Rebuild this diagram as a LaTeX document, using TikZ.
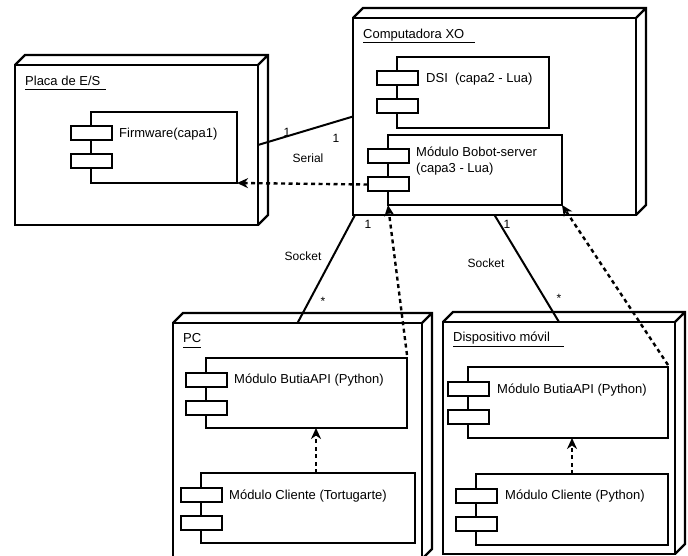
\documentclass[tikz,border=0pt]{standalone}
\usepackage{fontspec}
\setmainfont{Liberation Sans}
\usetikzlibrary{positioning,calc,arrows.meta}

\tikzset{
  nodo/.style={draw, line width=2.2pt, rectangle, anchor=north west, inner sep=0pt, outer sep=0pt},
  componente/.style={draw, line width=2pt, rectangle, anchor=north west, inner sep=0pt, outer sep=0pt, fill=white},
  puerto/.style={draw, line width=2pt, rectangle, fill=white, minimum width=41pt, minimum height=14pt, inner sep=0pt, outer sep=0pt},
  texto/.style={anchor=west, inner sep=0pt, font=\fontsize{13}{16}\selectfont, align=left},
  etiqueta/.style={anchor=south west, inner xsep=0pt, inner ysep=1.5pt, text depth=0.25em, font=\fontsize{13}{15}\selectfont},
  conector/.style={line width=2pt},
  depende/.style={line width=2.4pt, dash pattern=on 4pt off 3.5pt, -{Stealth[length=11pt,width=10pt,inset=3.5pt]}},
  mult/.style={inner sep=0pt, font=\fontsize{12}{14}\selectfont}
}

\begin{document}
\begin{tikzpicture}[x=1pt,y=-1pt]
  \useasboundingbox (0,0) rectangle (688,556);

  % nodos
  \node[nodo, minimum width=243pt, minimum height=160pt] (placa) at (15,65) {};
  \node[nodo, minimum width=283pt, minimum height=197pt] (xo) at (353,18) {};
  \node[nodo, minimum width=249pt, minimum height=236pt] (pc) at (173,323) {};
  \node[nodo, minimum width=232pt, minimum height=232pt] (movil) at (443,322) {};
  \foreach \n in {placa,xo,pc,movil}
    \draw[line width=2.2pt, line join=miter] (\n.north west) -- ++(10,-10) -| ([shift={(10,-10)}]\n.south east) -- (\n.south east)
      (\n.north east) -- ++(10,-10);

  % nombres de los nodos
  \node[etiqueta] (lplaca) at (25,90) {Placa de E/S};
  \draw[line width=1pt] (lplaca.south west) -- ++(81,0);
  \node[etiqueta] (lxo) at (363,43) {Computadora XO};
  \draw[line width=1pt] (lxo.south west) -- ++(112,0);
  \node[etiqueta] (lpc) at (183,347) {PC};
  \draw[line width=1pt] (lpc.south west) -- ++(18,0);
  \node[etiqueta] (lmovil) at (453,346) {Dispositivo móvil};
  \draw[line width=1pt] (lmovil.south west) -- ++(111,0);

  % componentes
  \node[componente, minimum width=146pt, minimum height=71pt] (firmware) at (91,112) {};
  \node[componente, minimum width=152pt, minimum height=71pt] (dsi) at (397,57) {};
  \node[componente, minimum width=174pt, minimum height=70pt] (bobot) at (388,135) {};
  \node[componente, minimum width=201pt, minimum height=70pt] (apipc) at (206,358) {};
  \node[componente, minimum width=214pt, minimum height=70pt] (clipc) at (201,473) {};
  \node[componente, minimum width=200pt, minimum height=71pt] (apimov) at (468,367) {};
  \node[componente, minimum width=192pt, minimum height=71pt] (climov) at (476,474) {};
  \foreach \c in {firmware,dsi,bobot,apipc,clipc,apimov,climov} {
    \node[puerto] (\c-p1) at ([yshift=-21.5pt]\c.north west) {};
    \node[puerto] (\c-p2) at ([yshift=-49.5pt]\c.north west) {};
  }

  \node[texto] (tfirmware) at ([shift={(28,22)}]firmware.north west) {Firmware(capa1)};
  \node[texto] (tdsi) at ([shift={(29,22)}]dsi.north west) {DSI\ \ (capa2 - Lua)};
  \node[texto, anchor=north west] (tbobot) at ([shift={(28,12)}]bobot.north west) {Módulo Bobot-server\\(capa3 - Lua)};
  \node[texto] (tapipc) at ([shift={(28,22)}]apipc.north west) {Módulo ButiaAPI (Python)};
  \node[texto] (tclipc) at ([shift={(28,23)}]clipc.north west) {Módulo Cliente (Tortugarte)};
  \node[texto] (tapimov) at ([shift={(29,23)}]apimov.north west) {Módulo ButiaAPI (Python)};
  \node[texto] (tclimov) at ([shift={(29,22)}]climov.north west) {Módulo Cliente (Python)};

  % conexiones
  \draw[conector] (placa.east) -- ([yshift=0pt]xo.west);
  \node[mult] (s1) at (287,132) {1};
  \node[mult] (s2) at (336,138) {1};
  \node[mult] (sserial) at (308,158) {Serial};

  \draw[conector] ([xshift=2pt]xo.south west) -- (pc.north);
  \node[mult] (p1) at (368,224) {1};
  \node[mult] (psock) at (303,256) {Socket};
  \node[mult] (pstar) at (323,301) {*};

  \draw[conector] (xo.south) -- (movil.north);
  \node[mult] (m1) at (507,224) {1};
  \node[mult] (msock) at (486,263) {Socket};
  \node[mult] (mstar) at (559,298) {*};

  % dependencias
  \draw[depende] (bobot-p2.west) -- (firmware.south east);
  \draw[depende] ([yshift=3pt]apipc.north east) -- (bobot.south west);
  \draw[depende] ([yshift=2pt]apimov.north east) -- (bobot.south east);
  \draw[depende] ([xshift=8pt]clipc.north) -- ([xshift=8pt]clipc.north |- apipc.south);
  \draw[depende] (climov.north) -- (climov.north |- apimov.south);
\end{tikzpicture}
\end{document}
